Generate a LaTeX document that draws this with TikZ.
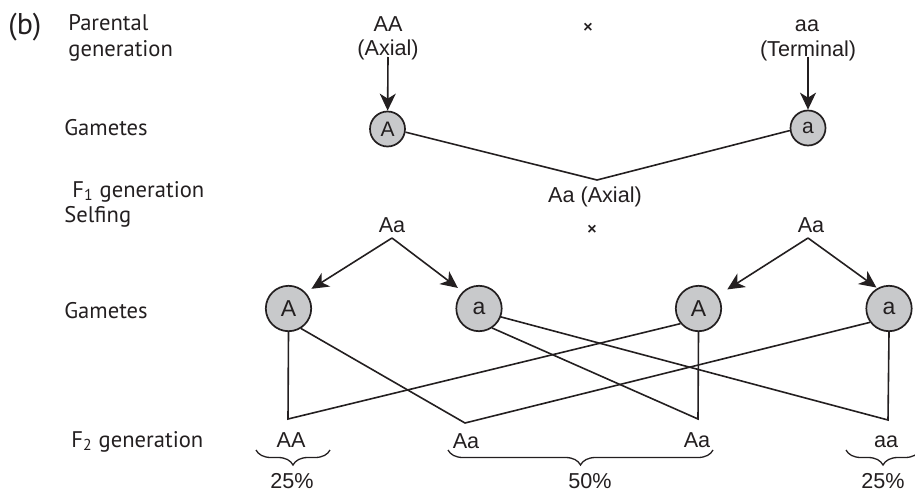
\documentclass[tikz,border=0pt]{standalone}
\usepackage{fontspec}
\setmainfont{Liberation Sans}
\newfontfamily\lblfont{PT Sans}
\usetikzlibrary{arrows.meta,decorations.pathreplacing}
\definecolor{ink}{RGB}{35,31,32}
\definecolor{gfill}{RGB}{200,201,203}
\begin{document}
\begin{tikzpicture}[x=0.5pt,y=-0.5pt,
  lbl/.style={anchor=base west,inner sep=0pt,text=ink,font=\lblfont\fontsize{11.3}{13}\selectfont},
  geno/.style={anchor=base,inner sep=0pt,text=ink,font=\fontsize{10.8}{13}\selectfont},
  cross/.style={inner sep=0pt,text=ink,font=\bfseries\fontsize{8}{8}\selectfont},
  gsmall/.style={circle,draw=ink,fill=gfill,line width=0.85pt,inner sep=0pt,minimum size=17.5pt,text=ink,font=\fontsize{10.5}{12}\selectfont},
  gbig/.style={circle,draw=ink,fill=gfill,line width=0.85pt,inner sep=0pt,minimum size=22.7pt,text=ink,font=\fontsize{11.5}{13}\selectfont},
  ln/.style={draw=ink,line width=0.8pt},
  arr/.style={draw=ink,line width=0.8pt,-{Stealth[length=8.5pt,width=8pt,inset=2.5pt]}},
  brc/.style={draw=ink,line width=0.65pt,decorate,decoration={brace,mirror,amplitude=7.5pt}}
]
\useasboundingbox (0,0) rectangle (915,492);
\clip (0,0) rectangle (915,492);

% left labels
\node[lbl,font=\lblfont\fontsize{15}{17}\selectfont] (b) at (8,35) {(b)};
\node[lbl] (l1) at (68,31) {Parental};
\node[lbl] (l2) at (68,57) {generation};
\node[lbl] (l3) at (64,135) {Gametes};
\node[lbl] (l4) at (72,197) {F\textsubscript{1} generation};
\node[lbl] (l5) at (64,222) {Selfing};
\node[lbl] (l6) at (64,318) {Gametes};
\node[lbl] (l7) at (71,447) {F\textsubscript{2} generation};

% parental
\node[geno] (AA) at (388,32) {AA};
\node[geno] (ax) at (388,56) {(Axial)};
\node[geno] (aa) at (807,32) {aa};
\node[geno] (te) at (808,57) {(Terminal)};
\node[cross] (x1) at (588,28) {×};
\coordinate (t1) at (388,57);
\coordinate (t2) at (808,57);

% gametes (parents)
\node[gsmall] (A1) at (387.5,129) {A};
\node[gsmall] (a1) at (808,128) {a};
\draw[arr] (t1) -- (A1);
\draw[arr] (t2) -- (a1);

% F1
\coordinate (v0) at (597,180);
\draw[ln] (A1.-10) -- (v0) -- (a1.-172);
\node[geno] (f1) at (595,202) {Aa (Axial)};
\node[cross] (x2) at (592,230) {×};

% selfing
\node[geno] (sl) at (392,232) {Aa};
\node[geno] (sr) at (811,232) {Aa};
\coordinate (sL) at (392,238);
\coordinate (sR) at (808,238);

% gametes (F1)
\node[gbig] (gA1) at (288.5,308.5) {A};
\node[gbig] (ga1) at (479,308.5) {a};
\node[gbig] (gA2) at (698.5,308.5) {A};
\node[gbig] (ga2) at (889,308.5) {a};

\draw[arr,shorten >=3.4pt] (sL) -- (gA1.43);
\draw[arr,shorten >=3pt] (sL) -- (ga1.134);
\draw[arr,shorten >=5.5pt] (sR) -- (gA2.34);
\draw[arr,shorten >=0.5pt] (sR) -- (ga2.120);

% F2 vertices
\coordinate (v1) at (288,419);
\coordinate (v2) at (465,423);
\coordinate (v3) at (698,419);
\coordinate (v4) at (888,420);
\draw[ln] (gA1.south) -- (v1) -- (gA2.-140);
\draw[ln] (gA1.-58) -- (v2) -- (ga2.-144);
\draw[ln] (ga1.-56) -- (v3) -- (gA2.south);
\draw[ln] (ga1.-21) -- (v4) -- (ga2.south);

% F2 genotypes
\node[geno] (o1) at (291,447) {AA};
\node[geno] (o2) at (466,448) {Aa};
\node[geno] (o3) at (697,447) {Aa};
\node[geno] (o4) at (886,447) {aa};

% braces
\draw[brc] (256,450) -- (330,450);
\draw[brc] (448,450) -- (713,450);
\draw[brc] (846,450) -- (920,450);

\node[geno] (p1) at (292,488) {25\%};
\node[geno] (p2) at (590,488) {50\%};
\node[geno] (p3) at (883,488) {25\%};
\end{tikzpicture}
\end{document}
